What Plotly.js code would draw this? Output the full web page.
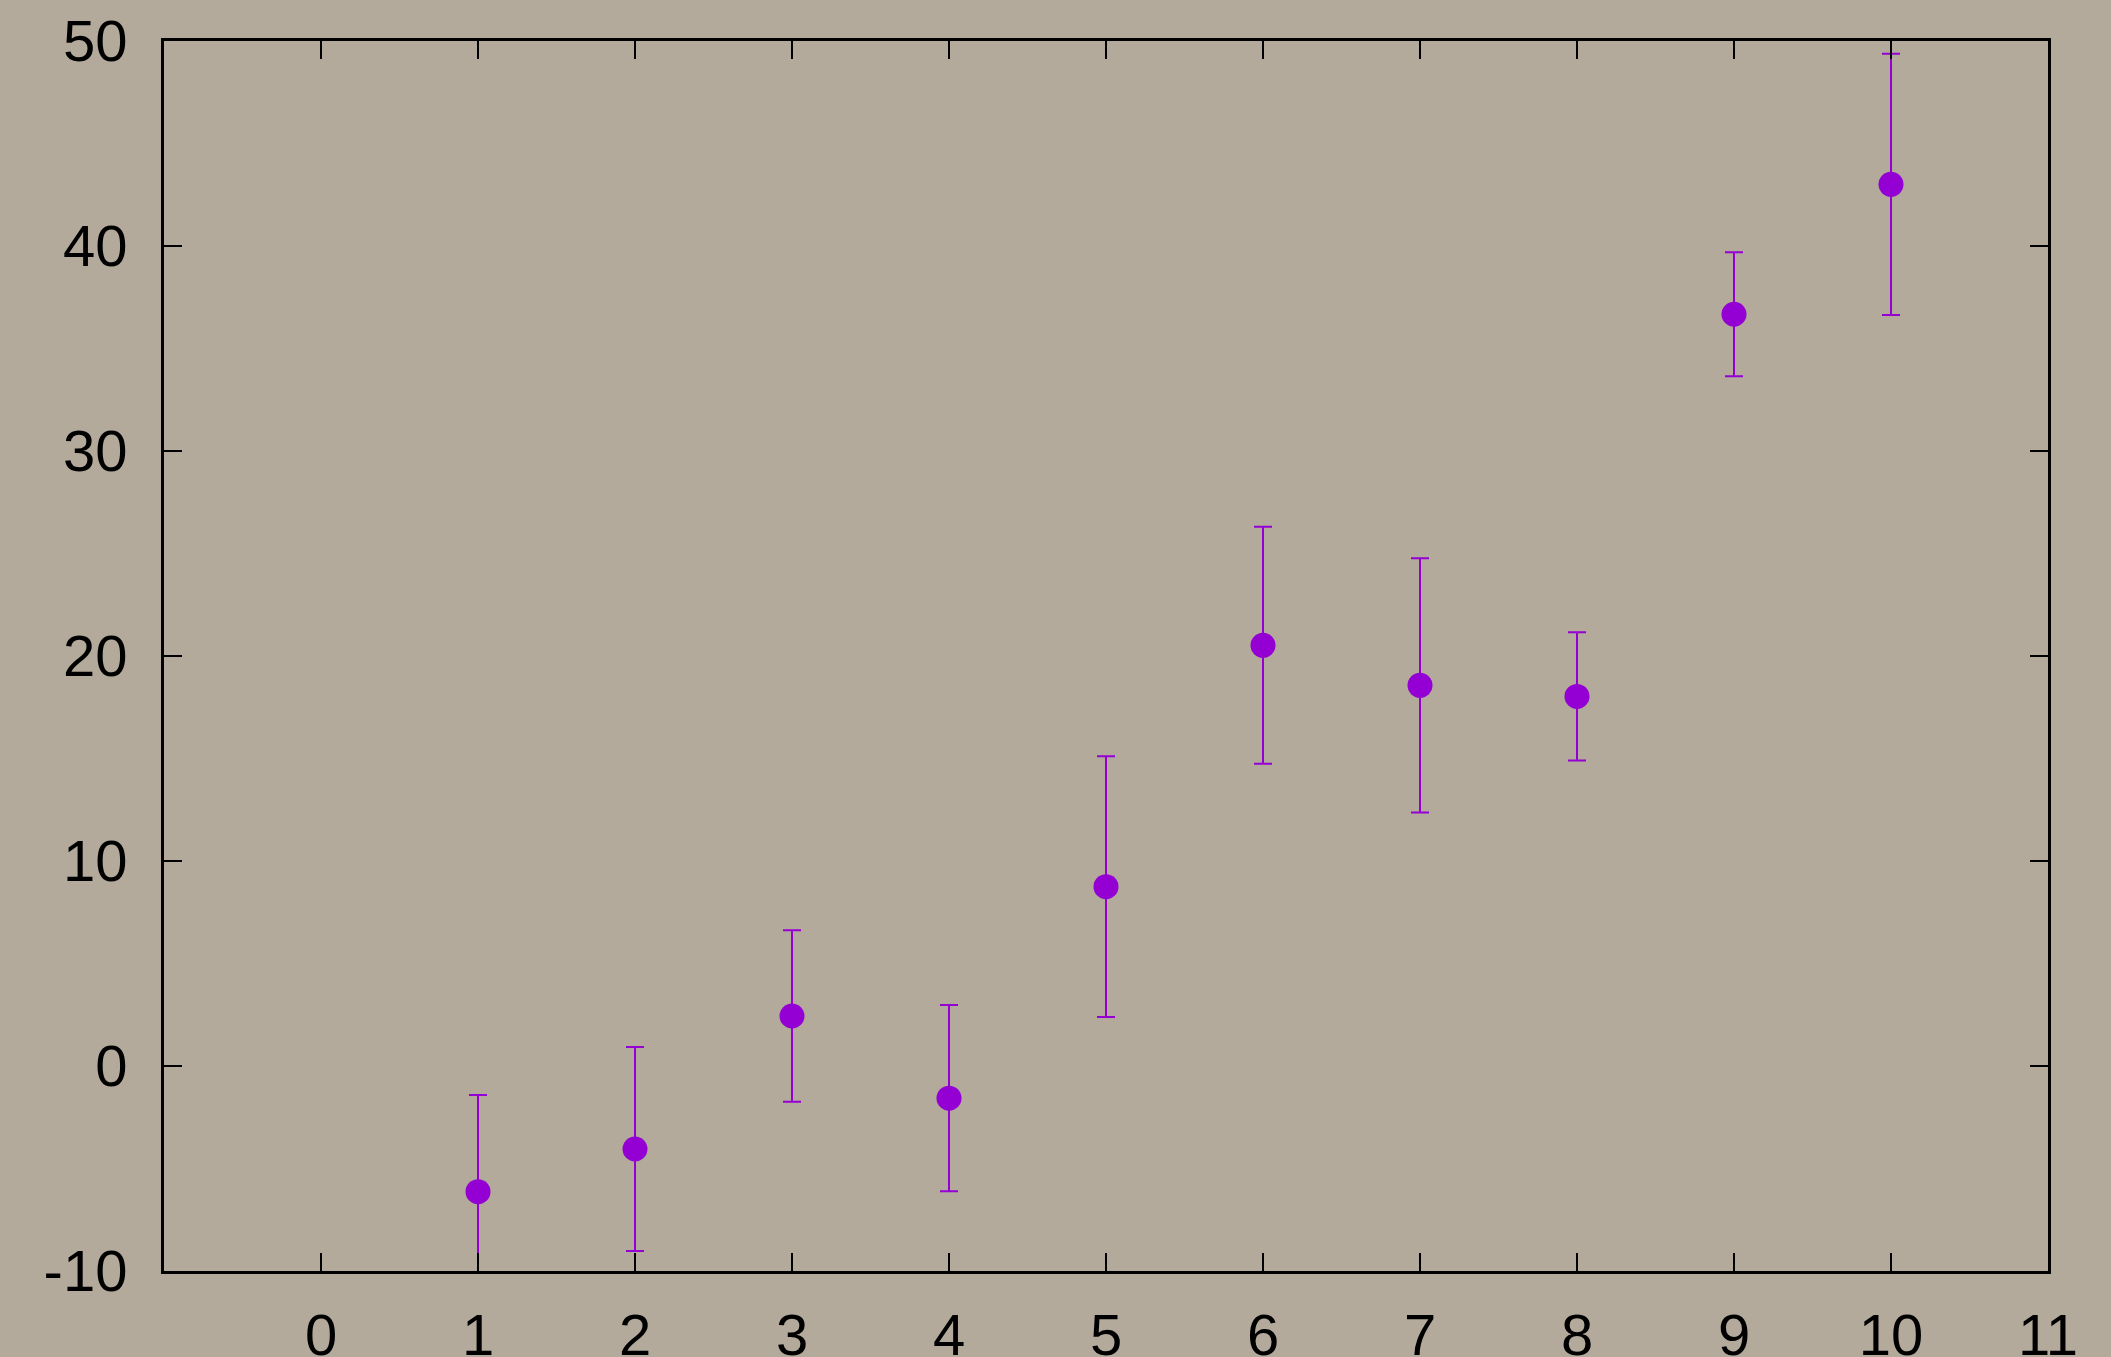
<!DOCTYPE html>
<html>
<head>
<meta charset="utf-8">
<script src="https://cdn.plot.ly/plotly-3.0.1.min.js"></script>
<style>
html,body{margin:0;padding:0;background:#b3aa9c;}
#chart{width:2111px;height:1357px;}
</style>
</head>
<body>
<div id="chart"></div>
<script>
const xValues = [1, 2, 3, 4, 5, 6, 7, 8, 9, 10];
const yValues = [-6.13, -4.05, 2.44, -1.57, 8.75, 20.52, 18.57, 18.03, 36.67, 43.01];
const yErrors = [4.72, 4.98, 4.18, 4.54, 6.36, 5.78, 6.2, 3.13, 3.02, 6.37];
const xTicks = [0, 1, 2, 3, 4, 5, 6, 7, 8, 9, 10, 11];
const yTicks = [-10, 0, 10, 20, 30, 40, 50];

const purple = '#9400d3';

const trace = {
  type: 'scatter',
  mode: 'markers',
  x: xValues,
  y: yValues,
  marker: {color: purple, size: 25},
  error_y: {type: 'data', array: yErrors, visible: true, color: purple, thickness: 2, width: 9},
  showlegend: false
};

const axisCommon = {
  showgrid: false,
  zeroline: false,
  showline: true,
  linecolor: '#000',
  linewidth: 3,
  mirror: 'ticks',
  ticks: 'inside',
  ticklen: 18,
  tickwidth: 1.5,
  tickcolor: '#000',
  tickfont: {family: 'Liberation Sans, Arial, Helvetica, sans-serif', size: 58, color: '#000'}
};

const layout = {
  width: 2111,
  height: 1357,
  paper_bgcolor: '#b3aa9c',
  plot_bgcolor: '#b3aa9c',
  margin: {l: 164, r: 63, t: 41, b: 86, pad: 0},
  xaxis: Object.assign({}, axisCommon, {
    range: [-1, 11],
    tickmode: 'array',
    tickvals: xTicks,
    ticktext: xTicks.map(String),
    ticklabelstandoff: 11
  }),
  yaxis: Object.assign({}, axisCommon, {
    range: [-10, 50],
    tickmode: 'array',
    tickvals: yTicks,
    ticktext: yTicks.map(String),
    ticklabelstandoff: 22
  })
};

Plotly.newPlot('chart', [trace], layout, {displayModeBar: false, staticPlot: true});
</script>
</body>
</html>
